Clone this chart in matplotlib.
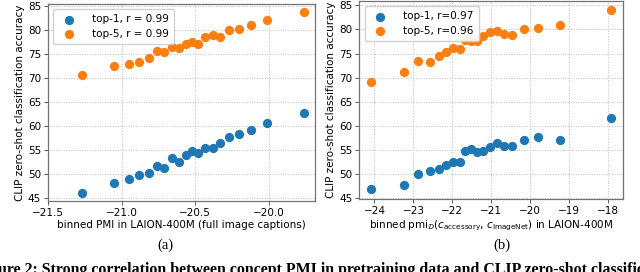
import matplotlib.pyplot as plt
import numpy as np

# (a) binned PMI, full image captions
pmi_a = [-21.27, -21.05, -20.95, -20.88, -20.81, -20.76, -20.71, -20.66, -20.61, -20.56,
         -20.52, -20.48, -20.43, -20.38, -20.33, -20.27, -20.20, -20.12, -20.01, -19.76]
top1_a = [46.1, 48.1, 49.0, 49.7, 50.2, 51.7, 51.3, 53.4, 52.4, 53.9,
          54.7, 54.3, 55.4, 55.4, 56.4, 57.7, 58.3, 59.1, 60.6, 62.7]
top5_a = [70.5, 72.5, 72.8, 73.4, 74.2, 75.6, 75.4, 76.5, 76.2, 77.1,
          77.5, 77.1, 78.5, 79.0, 78.5, 80.0, 80.2, 81.0, 82.0, 83.7]

# (b) binned pmi_D(c_accessory, c_ImageNet)
pmi_b = [-24.08, -23.25, -22.88, -22.58, -22.35, -22.16, -21.98, -21.81, -21.68, -21.51,
         -21.36, -21.21, -21.04, -20.86, -20.68, -20.46, -20.17, -19.79, -19.24, -17.92]
top1_b = [46.9, 47.8, 50.1, 50.7, 51.1, 51.8, 52.5, 52.6, 54.8, 55.3,
          54.5, 54.8, 55.7, 56.5, 55.8, 55.9, 57.0, 57.8, 57.1, 61.6]
top5_b = [69.1, 71.1, 73.4, 73.3, 74.6, 75.3, 76.2, 76.0, 77.8, 77.6,
          77.7, 78.6, 79.5, 79.6, 79.0, 78.9, 80.1, 80.2, 80.9, 84.0]

fig = plt.figure(figsize=(6.4, 2.72), dpi=100)
ax1 = fig.add_axes([48 / 640, 71.3 / 272, 267 / 640, 196.7 / 272])
ax2 = fig.add_axes([359.3 / 640, 73 / 272, 264 / 640, 198 / 272])

fs = 7.5
for ax, x, t1, t5, lab1, lab5 in [
        (ax1, pmi_a, top1_a, top5_a, 'top-1, r = 0.99', 'top-5, r = 0.99'),
        (ax2, pmi_b, top1_b, top5_b, 'top-1, r=0.97', 'top-5, r=0.96')]:
    ax.scatter(x, t1, s=32, color='tab:blue', label=lab1, zorder=3)
    ax.scatter(x, t5, s=32, color='tab:orange', label=lab5, zorder=3)
    ax.grid(True, linestyle=':', color='0.75', linewidth=0.7)
    ax.set_axisbelow(True)
    ax.set_yticks([45, 50, 55, 60, 65, 70, 75, 80, 85])
    ax.tick_params(labelsize=fs, length=3, width=0.7, color='0.35', pad=2)
    for sp in ax.spines.values():
        sp.set_color('0.45')
        sp.set_linewidth(0.9)
    ax.set_ylabel('CLIP zero-shot classification accuracy', fontsize=fs, labelpad=2)
    ax.legend(loc='upper left', fontsize=fs, scatterpoints=1, handletextpad=1.2,
              borderpad=0.5, labelspacing=0.4, framealpha=0.9)

ax1.set_xlim(-21.495, -19.684)
ax1.set_xticks([-21.5, -21.0, -20.5, -20.0])
ax1.set_ylim(44.4, 85.4)
ax1.set_xlabel('binned PMI in LAION-400M (full image captions)', fontsize=fs, labelpad=2)

ax2.set_xticks([-24, -23, -22, -21, -20, -19, -18])
ax2.set_ylim(44.85, 85.9)
ax2.set_xlabel(r'binned pmi$_{\mathcal{D}}$($c_{\mathrm{accessory}}$, $c_{\mathrm{ImageNet}}$) in LAION-400M',
               fontsize=fs, labelpad=2)

fig.text(165 / 640, 1 - 245 / 272, '(a)', ha='center', va='center',
         family='Liberation Serif', fontsize=10.5)
fig.text(502 / 640, 1 - 245 / 272, '(b)', ha='center', va='center',
         family='Liberation Serif', fontsize=10.5)
# figure caption, cut off at the bottom/right edges as in the source crop
fig.text(-24 / 640, 1 - 274 / 272,
         'Figure 2: Strong correlation between concept PMI in pretraining data and CLIP zero-shot classification',
         ha='left', va='baseline', family='Liberation Serif', fontweight='bold', fontsize=11.4)

fig.savefig('out.png', dpi=100)
